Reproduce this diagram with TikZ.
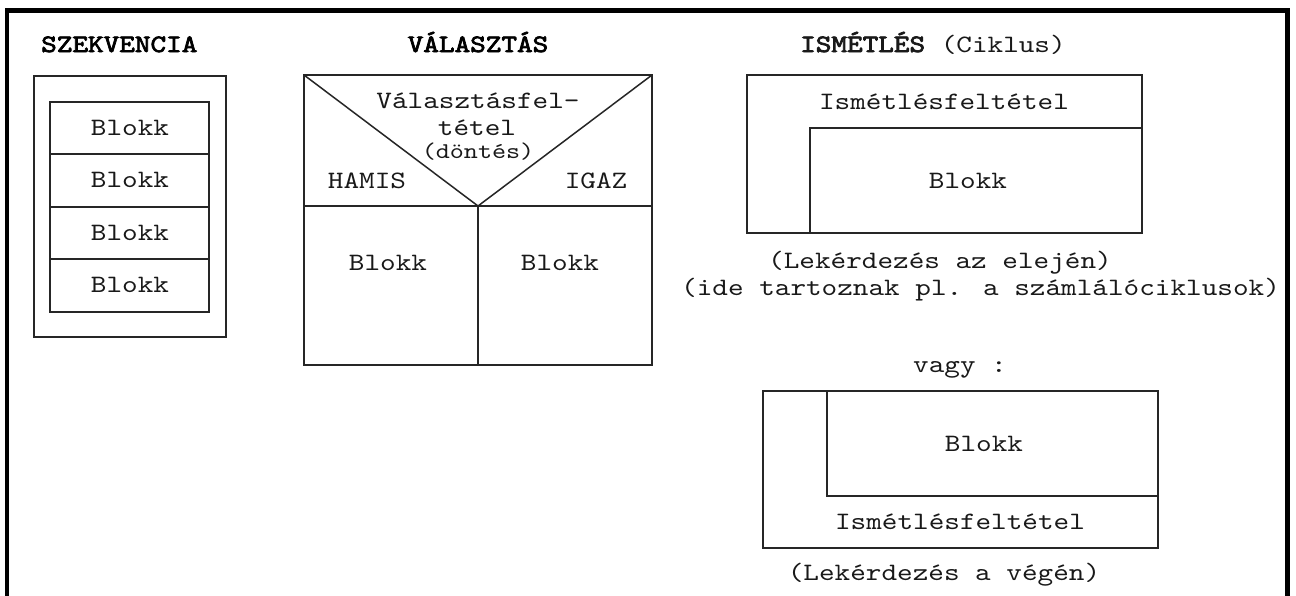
\documentclass[tikz,border=0pt]{standalone}
\usepackage{fontspec}
% typewriter face widened to a 0.6em advance, and a heavy variant for headings
\newfontfamily\cour{lmmono10-regular.otf}[FakeStretch=1.19]
\newfontfamily\courbold{lmmono10-regular.otf}[FakeStretch=1.19, FakeBold=3]
\begin{document}
\begin{tikzpicture}[x=1pt,y=-1pt,
  ln/.style={line width=1.5pt, draw=black!85},
  frame/.style={line width=4.5pt, draw=black},
  lbl/.style={font=\cour\fontsize{25}{30}\selectfont, text=black!90, inner sep=0pt, anchor=base},
  ttl/.style={lbl, font=\courbold\fontsize{25}{30}\selectfont, text=black},
  sml/.style={lbl, font=\cour\fontsize{22.5}{28}\selectfont},
]
\useasboundingbox[fill=white] (0,0) rectangle (1296,595);

% outer frame, open at the bottom
\draw[frame] (7,600) -- (7,10.5) -- (1287.5,10.5) -- (1287.5,600);

% ---------- SZEKVENCIA ----------
\node[ttl, anchor=base west] (seqtitle) at (41,52) {SZEKVENCIA};
\draw[ln] (34,76) rectangle (226,337);
\draw[ln] (50,102) rectangle (209,312);
\foreach \y in {154,207,259} \draw[ln] (50,\y) -- (209,\y);
\node[lbl] (seq1) at (130,135) {Blokk};
\node[lbl] (seq2) at (130,187) {Blokk};
\node[lbl] (seq3) at (130,240) {Blokk};
\node[lbl] (seq4) at (130,292) {Blokk};

% ---------- VÁLASZTÁS ----------
\node[ttl] (seltitle) at (478,52) {VÁLASZTÁS};
\draw[ln] (304,75) rectangle (652,365);
\coordinate (apex) at (478,206);
\draw[ln] (304,75) -- (apex) -- (652,75);
\draw[ln] (304,206) -- (652,206);
\draw[ln] (apex) -- (478,365);
\node[lbl] (cond1) at (478,108) {Választásfel-};
\node[lbl] (cond2) at (477,135) {tétel};
\node[sml] (cond3) at (478,158) {(döntés)};
\node[lbl] (false) at (367,188) {HAMIS};
\node[lbl] (true)  at (596,188) {IGAZ};
\node[lbl] (selF) at (388,270) {Blokk};
\node[lbl] (selT) at (560,270) {Blokk};

% ---------- ISMÉTLÉS: test at the start ----------
\node[lbl, anchor=base west] (looptitle) at (800,52) {{\courbold ISMÉTLÉS} (Ciklus)};
\draw[ln] (747,75) rectangle (1142,233);
\draw[ln] (810,233) -- (810,128) -- (1142,128);
\node[lbl] (pretest) at (944,109) {Ismétlésfeltétel};
\node[lbl] (prebody) at (968,188) {Blokk};
\node[lbl] (precap1) at (940,268) {(Lekérdezés az elején)};
\node[lbl, anchor=base west] (precap2) at (681,295) {(ide tartoznak pl. a számlálóciklusok)};

% ---------- ISMÉTLÉS: test at the end ----------
\node[lbl] (or) at (960,372) {vagy :};
\draw[ln] (763,391) rectangle (1158,548);
\draw[ln] (827,391) -- (827,496) -- (1158,496);
\node[lbl] (postbody) at (984,451) {Blokk};
\node[lbl] (posttest) at (960,529) {Ismétlésfeltétel};
\node[lbl] (postcap) at (944,580) {(Lekérdezés a végén)};
\end{tikzpicture}
\end{document}
